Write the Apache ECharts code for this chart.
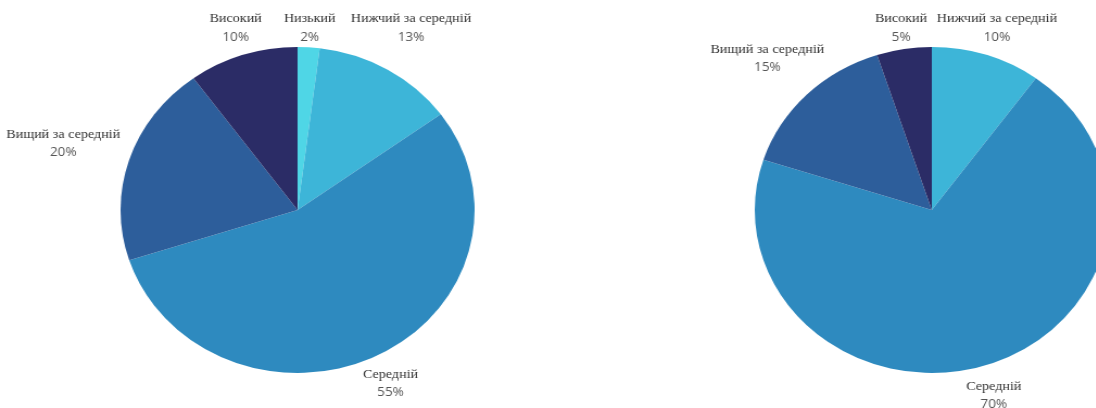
<!DOCTYPE html>
<html>
<head>
<meta charset="utf-8">
<script src="https://cdn.jsdelivr.net/npm/echarts@6/dist/echarts.min.js"></script>
<style>
  html, body { margin: 0; padding: 0; background: #fff; overflow: hidden; }
  #wrap { width: 1096px; height: 408px; overflow: hidden; }
  /* reference picture is a bit stretched sideways, so the pies are too */
  #chart { width: 1009px; height: 408px; transform: scaleX(1.086); transform-origin: 0 0; }
</style>
</head>
<body>
<div id="wrap"><div id="chart"></div></div>
<script>
// left pie
const leftNames = ['Низький', 'Нижчий за середній', 'Середній', 'Вищий за середній', 'Високий'];
const leftValues = [2, 13, 55, 20, 10];
// right pie
const rightNames = ['Нижчий за середній', 'Середній', 'Вищий за середній', 'Високий'];
const rightValues = [10, 70, 15, 5];

const levelColors = {
  'Низький': '#4fd6e6',
  'Нижчий за середній': '#3db5d8',
  'Середній': '#2e8abf',
  'Вищий за середній': '#2d5e9b',
  'Високий': '#2b2c66'
};

const R = 163;
const CY = 210;

// label just outside the middle of its slice, centred; labels near the top sit on one row
const makeLabelLayout = (values, cx) => {
  const total = values.reduce((a, b) => a + b, 0);
  return (params) => {
    const i = params.dataIndex;
    let before = 0;
    for (let k = 0; k < i; k++) before += values[k];
    const mid = (before + values[i] / 2) / total * Math.PI * 2;
    const dx = Math.sin(mid);
    const dy = -Math.cos(mid);
    const w = params.labelRect.width;
    const h = params.labelRect.height;
    const d = R + 14;
    let y;
    if (dy < -0.8) y = CY - R - 19;
    else if (dy < 0) y = CY + dy * (d + h * 1.2);
    else y = CY + dy * (d + h / 2) + 2;
    return {
      x: cx + dx * (d + Math.abs(dx) * w / 2),
      y: y,
      align: 'center',
      verticalAlign: 'middle'
    };
  };
};

const makeSeries = (names, values, cx) => ({
  type: 'pie',
  center: [cx, CY],
  radius: R,
  startAngle: 90,
  clockwise: true,
  avoidLabelOverlap: false,
  silent: true,
  itemStyle: { borderWidth: 0 },
  label: {
    show: true,
    position: 'outside',
    formatter: '{n|{b}}\n{p|{c}%}',
    rich: {
      n: { fontFamily: 'Liberation Serif', fontSize: 13, color: '#333', lineHeight: 18, align: 'center' },
      p: { fontFamily: 'Open Sans', fontSize: 12.5, color: '#555', lineHeight: 18, align: 'center' }
    }
  },
  labelLine: { show: false },
  labelLayout: makeLabelLayout(values, cx),
  data: names.map((name, i) => ({
    name: name,
    value: values[i],
    itemStyle: { color: levelColors[name] }
  }))
});

const chart = echarts.init(document.getElementById('chart'));
chart.setOption({
  animation: false,
  series: [
    makeSeries(leftNames, leftValues, 274),
    makeSeries(rightNames, rightValues, 858)
  ]
});
</script>
</body>
</html>
